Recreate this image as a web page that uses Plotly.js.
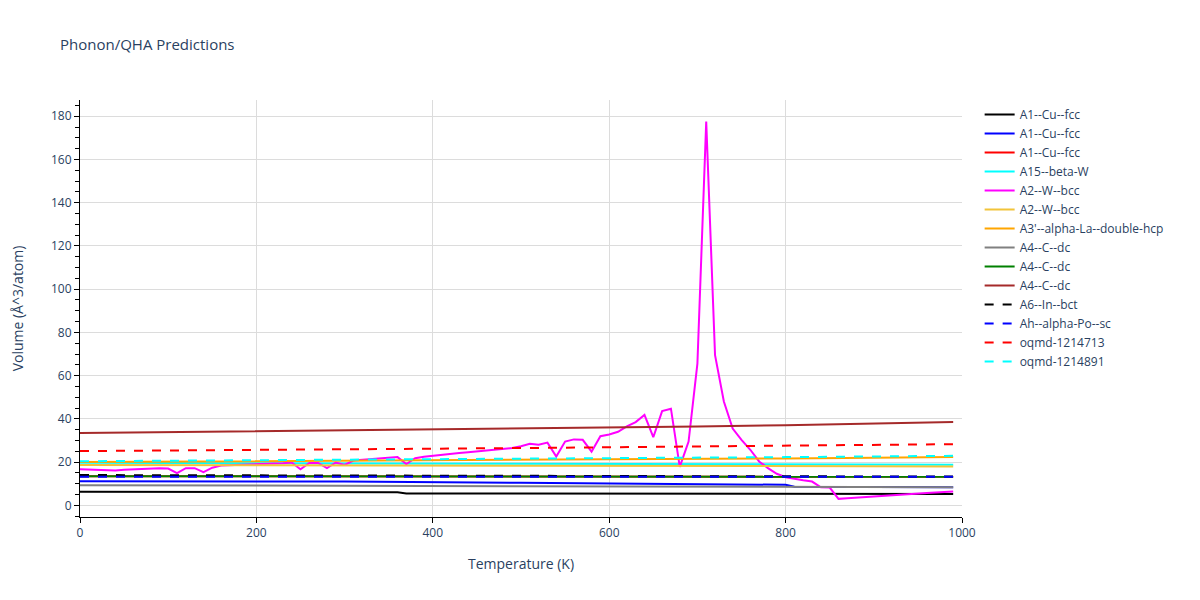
<!DOCTYPE html>
<html>
<head>
<meta charset="utf-8">
<script src="https://cdn.plot.ly/plotly-3.0.1.min.js"></script>
<style>html,body{margin:0;padding:0;background:#fff;}#chart{width:1200px;height:600px;}</style>
</head>
<body>
<div id="chart"></div>
<script>
// Temperatures (K)
const T_coarse = [0, 100, 200, 300, 400, 500, 600, 700, 800, 900, 990];
const T_black = [0, 100, 200, 300, 360, 370, 500, 700, 900, 990];
const T_blue = [0, 300, 500, 660, 800, 810, 900, 990];
const T_fine = [0,10,20,30,40,50,60,70,80,90,100,110,120,130,140,150,160,170,180,190,200,210,220,230,240,250,260,270,280,290,300,310,320,330,340,350,360,370,380,390,400,410,420,430,440,450,460,470,480,490,500,510,520,530,540,550,560,570,580,590,600,610,620,630,640,650,660,670,680,690,700,710,720,730,740,750,760,770,780,790,800,810,820,830,840,850,860,870,880,890,900,910,920,930,940,950,960,970,980,990];

// Volumes (Å^3/atom)
const v_A1_Cu_black = [6.3, 6.3, 6.2, 6.2, 6.1, 5.5, 5.4, 5.3, 5.2, 5.2];
const v_A1_Cu_blue = [11.1, 11.0, 10.4, 9.8, 9.5, 8.6, 8.5, 8.4];
const v_A1_Cu_red = [13.5, 13.5, 13.5, 13.4, 13.4, 13.4, 13.3, 13.3, 13.3, 13.2, 13.2];
const v_A15_beta_W = [19.7, 19.6, 19.5, 19.4, 19.3, 19.2, 19.1, 19.0, 18.9, 18.8, 18.8];
const v_A2_W_magenta = [16.7,16.6,16.5,16.3,16.1,16.4,16.6,16.8,17.0,17.2,17.0,14.9,17.2,17.2,15.4,17.4,18.4,18.5,18.6,18.7,18.8,19.0,19.3,19.5,19.8,16.7,19.6,19.6,17.2,19.8,18.7,20.7,21.0,21.3,21.6,21.9,22.3,19.1,21.8,22.5,23.0,23.3,23.7,24.2,24.6,25.0,25.3,25.6,26.0,26.5,27.3,28.5,28.0,29.0,22.6,29.5,30.5,30.3,24.8,32.0,32.8,34.0,36.5,38.5,41.8,31.5,43.6,44.7,17.8,29.5,65.5,177.5,69.5,48.0,35.5,30.3,25.7,20.3,17.2,14.6,13.0,12.2,11.6,11.0,8.3,8.2,3.0,3.3,3.6,3.9,4.1,4.4,4.7,5.0,5.2,5.4,5.7,5.9,6.1,6.4];
const v_A2_W_yellow = [18.7, 18.6, 18.6, 18.5, 18.4, 18.3, 18.3, 18.2, 18.1, 18.1, 18.0];
const v_A3p_alpha_La = [20.0, 20.2, 20.3, 20.5, 20.6, 20.8, 21.1, 21.4, 21.7, 22.0, 22.3];
const v_A4_C_gray = [9.3, 9.2, 9.1, 9.0, 8.9, 8.8, 8.7, 8.6, 8.5, 8.5, 8.4];
const v_A4_C_green = [13.5, 13.5, 13.5, 13.4, 13.4, 13.4, 13.3, 13.3, 13.3, 13.2, 13.2];
const v_A4_C_brown = [33.4, 33.8, 34.2, 34.6, 35.0, 35.4, 35.9, 36.5, 37.1, 37.8, 38.5];
const v_A6_In_bct = [14.0, 13.9, 13.8, 13.7, 13.7, 13.6, 13.5, 13.4, 13.4, 13.3, 13.3];
const v_Ah_alpha_Po = [13.2, 13.2, 13.2, 13.2, 13.2, 13.2, 13.2, 13.2, 13.2, 13.2, 13.2];
const v_oqmd_1214713 = [25.1, 25.3, 25.6, 25.9, 26.2, 26.5, 26.8, 27.1, 27.5, 27.9, 28.3];
const v_oqmd_1214891 = [20.4, 20.6, 20.8, 21.1, 21.3, 21.5, 21.8, 22.0, 22.3, 22.6, 22.9];

const series = [
  {name: 'A1--Cu--fcc', x: T_black, y: v_A1_Cu_black, color: 'black', dash: 'solid'},
  {name: 'A1--Cu--fcc', x: T_blue, y: v_A1_Cu_blue, color: 'blue', dash: 'solid'},
  {name: 'A1--Cu--fcc', x: T_coarse, y: v_A1_Cu_red, color: 'red', dash: 'solid'},
  {name: 'A15--beta-W', x: T_coarse, y: v_A15_beta_W, color: 'cyan', dash: 'solid'},
  {name: 'A2--W--bcc', x: T_fine, y: v_A2_W_magenta, color: 'magenta', dash: 'solid'},
  {name: 'A2--W--bcc', x: T_coarse, y: v_A2_W_yellow, color: '#f2c43a', dash: 'solid'},
  {name: "A3'--alpha-La--double-hcp", x: T_coarse, y: v_A3p_alpha_La, color: 'orange', dash: 'solid'},
  {name: 'A4--C--dc', x: T_coarse, y: v_A4_C_gray, color: 'gray', dash: 'solid'},
  {name: 'A4--C--dc', x: T_coarse, y: v_A4_C_green, color: 'green', dash: 'solid'},
  {name: 'A4--C--dc', x: T_coarse, y: v_A4_C_brown, color: 'brown', dash: 'solid'},
  {name: 'A6--In--bct', x: T_coarse, y: v_A6_In_bct, color: 'black', dash: 'dash'},
  {name: 'Ah--alpha-Po--sc', x: T_coarse, y: v_Ah_alpha_Po, color: 'blue', dash: 'dash'},
  {name: 'oqmd-1214713', x: T_coarse, y: v_oqmd_1214713, color: 'red', dash: 'dash'},
  {name: 'oqmd-1214891', x: T_coarse, y: v_oqmd_1214891, color: 'cyan', dash: 'dash'}
];

const traces = series.map(s => ({
  type: 'scatter', mode: 'lines', name: s.name, x: s.x, y: s.y,
  line: {color: s.color, width: 2, dash: s.dash}
}));

const fontColor = '#2a3f5f';
const layout = {
  width: 1200, height: 600,
  paper_bgcolor: 'white', plot_bgcolor: 'white',
  font: {family: '"Open Sans", verdana, arial, sans-serif', size: 12, color: fontColor},
  title: {text: 'Phonon/QHA Predictions', x: 0.05, xanchor: 'left', font: {size: 15, color: fontColor}},
  margin: {l: 80, r: 238, t: 100, b: 83},
  showlegend: true,
  legend: {x: 1.02, y: 1, xanchor: 'left', yanchor: 'top', font: {size: 12, color: fontColor}, bgcolor: 'rgba(0,0,0,0)'},
  xaxis: {
    title: {text: 'Temperature (K)', font: {size: 14, color: fontColor}},
    range: [0, 1000], tickvals: [0, 200, 400, 600, 800, 1000],
    showgrid: true, gridcolor: '#dcdcdc', gridwidth: 1,
    showline: true, linecolor: 'black', linewidth: 1,
    ticks: 'outside', ticklen: 5, tickcolor: 'black',
    zeroline: false
  },
  yaxis: {
    title: {text: 'Volume (Å^3/atom)', font: {size: 14, color: fontColor}, standoff: 24},
    range: [-5.4, 187.5], dtick: 20, tick0: 0,
    showgrid: true, gridcolor: '#dcdcdc', gridwidth: 1,
    showline: true, linecolor: 'black', linewidth: 1,
    ticks: 'outside', ticklen: 5, tickcolor: 'black',
    minor: {dtick: 5, ticks: 'outside', ticklen: 4, tickcolor: 'black', showgrid: false},
    zeroline: false
  }
};

Plotly.newPlot('chart', traces, layout, {displayModeBar: false});
</script>
</body>
</html>
